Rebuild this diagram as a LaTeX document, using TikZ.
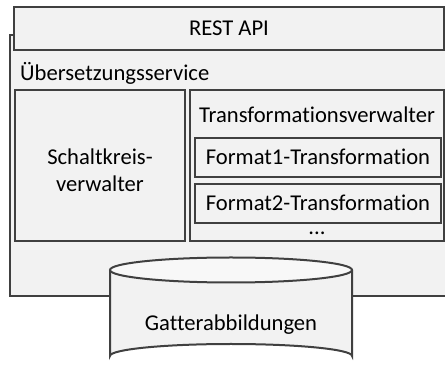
\documentclass[tikz,border=0pt]{standalone}
\usepackage{fontspec}
\setmainfont{Carlito}[RawFeature={-liga;-clig}]
\usetikzlibrary{shadows}
\definecolor{boxfill}{HTML}{F2F2F2}
\definecolor{boxline}{HTML}{404040}
\definecolor{lidfill}{HTML}{F8F8F8}
\begin{document}
\begin{tikzpicture}[x=1pt,y=-1pt,
  panel/.style={draw=boxline, fill=boxfill, line width=2pt,
    drop shadow={opacity=0.25, shadow xshift=0.8pt, shadow yshift=-1.5pt}},
  lbl/.style={font=\fontsize{22.6}{27}\selectfont, text=black, inner sep=0pt}]
\useasboundingbox (0,0) rectangle (445,371);
\clip (0,0) rectangle (445,371);
\fill[white] (0,0) rectangle (445,371);

% translation service container (runs past the right edge)
\draw[panel] (10,35) rectangle (470,296);
\node[lbl, anchor=west] (svc) at (20,73) {Übersetzungsservice};

% REST API bar
\draw[panel] (14,7) rectangle (444,50);
\node[lbl] (rest) at (229,28) {REST API};

% circuit manager
\draw[panel] (15,90) rectangle (185,241);
\node[lbl, align=center] (circ) at (100,170) {Schaltkreis-\\verwalter};

% transformation manager with its format plug-ins
\draw[panel] (190,90) rectangle (444,241);
\node[lbl] (tm) at (317,115) {Transformationsverwalter};
\draw[panel] (195,138) rectangle (441,177);
\node[lbl] (f1) at (318,157) {Format1-Transformation};
\draw[panel] (195,184) rectangle (441,223);
\node[lbl] (f2) at (318,203) {Format2-Transformation};
\node[lbl] (more) at (317,233) {...};

% gate mapping store (cylinder)
\draw[draw=boxline, fill=boxfill, line width=2pt]
  (110,270) -- (110,356) arc[start angle=180, end angle=360, x radius=121, y radius=12]
  -- (352,270);
\draw[draw=boxline, fill=lidfill, line width=2pt]
  (231,270) ellipse [x radius=121, y radius=12.5];
\node[lbl] (db) at (231,325) {Gatterabbildungen};
\end{tikzpicture}
\end{document}
